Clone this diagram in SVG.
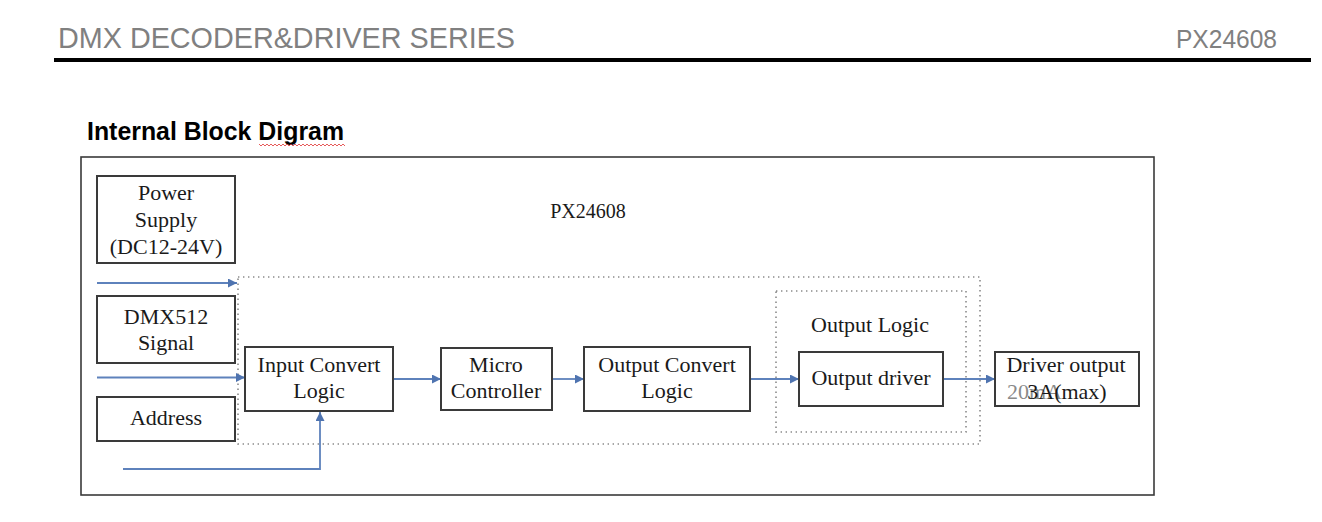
<svg xmlns="http://www.w3.org/2000/svg" width="1322" height="522" viewBox="0 0 1322 522">
<defs>
<marker id="arr" viewBox="0 0 10 10" refX="10" refY="5" markerWidth="10" markerHeight="9" markerUnits="userSpaceOnUse" orient="auto">
<path d="M0,0 L10,5 L0,10 z" fill="#4F74B0"/>
</marker>
<style>
.box{fill:#fff;stroke:#3a3a3a;stroke-width:2}
.dot{fill:none;stroke:#8a8a8a;stroke-width:1.6;stroke-dasharray:1.4 3.6}
.t{font-family:"Liberation Serif","Times New Roman",serif;font-size:22px;fill:#1a1a1a;text-anchor:middle}
.con{fill:none;stroke:#5E82BC;stroke-width:1.8}
</style>
</defs>
<rect width="1322" height="522" fill="#fff"/>
<g id="header">
<text x="58" y="48" font-family="Liberation Sans, Arial, sans-serif" font-size="29" fill="#808080" textLength="457" lengthAdjust="spacingAndGlyphs">DMX DECODER&amp;DRIVER SERIES</text>
<text x="1176" y="48" font-family="Liberation Sans, Arial, sans-serif" font-size="26" fill="#808080" textLength="101" lengthAdjust="spacingAndGlyphs">PX24608</text>
<line x1="54" y1="60" x2="1311" y2="60" stroke="#000" stroke-width="4"/>
</g>
<g id="title">
<text x="87" y="140" font-family="Liberation Sans, Arial, sans-serif" font-size="25" font-weight="bold" fill="#000" textLength="257" lengthAdjust="spacingAndGlyphs">Internal Block Digram</text>
<path d="M259,144 l2,2 l2,-2 l2,2 l2,-2 l2,2 l2,-2 l2,2 l2,-2 l2,2 l2,-2 l2,2 l2,-2 l2,2 l2,-2 l2,2 l2,-2 l2,2 l2,-2 l2,2 l2,-2 l2,2 l2,-2 l2,2 l2,-2 l2,2 l2,-2 l2,2 l2,-2 l2,2 l2,-2 l2,2 l2,-2 l2,2 l2,-2 l2,2 l2,-2 l2,2 l2,-2 l2,2 l2,-2 l2,2 l2,-2 l2,2" fill="none" stroke="#e03030" stroke-width="0.8"/>
</g>
<rect id="frame" x="81" y="157" width="1073" height="338" fill="none" stroke="#3a3a3a" stroke-width="1.6"/>
<g id="groups">
<rect x="238" y="277" width="742" height="167" class="dot"/>
<rect x="776" y="291" width="190" height="141" class="dot"/>
<text class="t" x="870" y="332">Output Logic</text>
<text class="t" x="588" y="218" style="font-size:20px">PX24608</text>
</g>
<g id="connectors">
<line class="con" x1="97" y1="283" x2="237" y2="283" marker-end="url(#arr)"/>
<line class="con" x1="97" y1="377.5" x2="245" y2="377.5" marker-end="url(#arr)"/>
<polyline class="con" points="123,469 320,469 320,412" marker-end="url(#arr)"/>
<line class="con" x1="393" y1="379" x2="441" y2="379" marker-end="url(#arr)"/>
<line class="con" x1="552" y1="379" x2="584" y2="379" marker-end="url(#arr)"/>
<line class="con" x1="750" y1="379" x2="799" y2="379" marker-end="url(#arr)"/>
<line class="con" x1="943" y1="379" x2="995" y2="379" marker-end="url(#arr)"/>
</g>
<g id="power">
<rect class="box" x="97" y="176" width="138" height="87"/>
<text class="t" x="166" y="200">Power</text>
<text class="t" x="166" y="227">Supply</text>
<text class="t" x="166" y="254">(DC12-24V)</text>
</g>
<g id="dmx">
<rect class="box" x="97" y="296" width="138" height="67"/>
<text class="t" x="166" y="324">DMX512</text>
<text class="t" x="166" y="350">Signal</text>
</g>
<g id="address">
<rect class="box" x="97" y="397" width="138" height="44"/>
<text class="t" x="166" y="425">Address</text>
</g>
<g id="input">
<rect class="box" x="245" y="347" width="148" height="64"/>
<text class="t" x="319" y="372">Input Convert</text>
<text class="t" x="319" y="398">Logic</text>
</g>
<g id="micro">
<rect class="box" x="441" y="348" width="111" height="62"/>
<text class="t" x="496" y="372">Micro</text>
<text class="t" x="496" y="398">Controller</text>
</g>
<g id="outconv">
<rect class="box" x="584" y="347" width="166" height="64"/>
<text class="t" x="667" y="372">Output Convert</text>
<text class="t" x="667" y="398">Logic</text>
</g>
<g id="driver">
<rect class="box" x="799" y="352" width="144" height="54"/>
<text class="t" x="871" y="385">Output driver</text>
</g>
<g id="out">
<rect class="box" x="995" y="352" width="144" height="54"/>
<text class="t" x="1066" y="372">Driver output</text>
<text class="t" x="1007" y="399" style="text-anchor:start;fill:#8a8a8a">20mA</text>
<text class="t" x="1067" y="399">3A(max)</text>
</g>
</svg>
